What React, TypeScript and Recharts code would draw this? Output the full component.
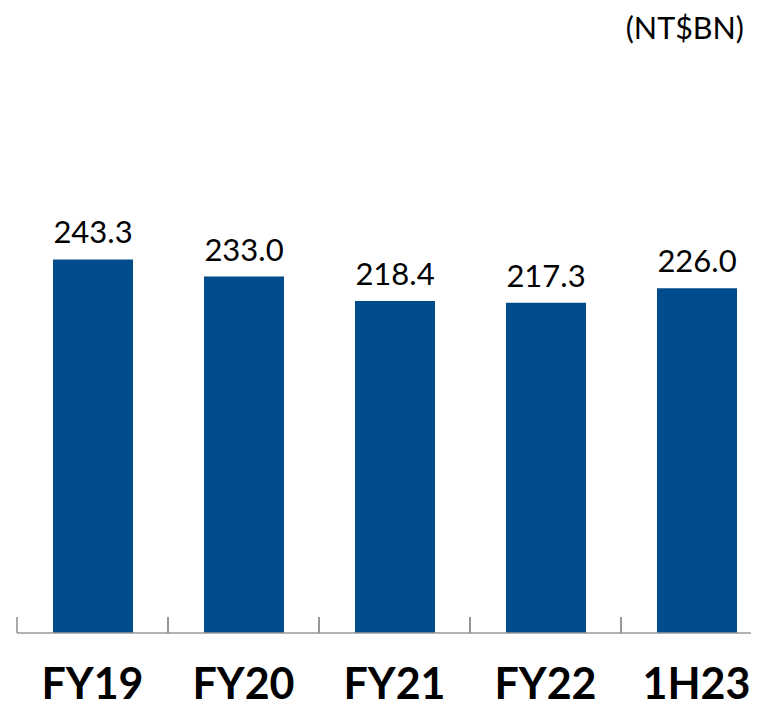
import { Bar, BarChart, LabelList, XAxis, YAxis } from "recharts"

const periods = ["FY19", "FY20", "FY21", "FY22", "1H23"]
const amounts = [243.3, 233.0, 218.4, 217.3, 226.0]
const unitLabel = "(NT$BN)"

const data = periods.map((name, i) => ({ name, value: amounts[i] }))

const FONT = "Lato, 'Open Sans', sans-serif"

function PeriodTick(props: any) {
  const { x, y, payload } = props
  const half = payload && payload.offset ? payload.offset : 75.5
  return (
    <g>
      <line x1={x - half} y1={y} x2={x - half} y2={y - 16} stroke="#8f8f8f" strokeWidth={1.5} />
      <line x1={x + half} y1={y} x2={x + half} y2={y - 16} stroke="#8f8f8f" strokeWidth={1.5} />
      <text x={x} y={y + 66} textAnchor="middle" fontFamily={FONT} fontWeight={700} fontSize={43} fill="#000">
        {payload.value}
      </text>
    </g>
  )
}

export default function App() {
  return (
    <div style={{ position: "relative", width: 751, height: 694, overflow: "hidden", background: "#fff" }}>
      <div
        style={{
          position: "absolute",
          top: 1,
          right: 15,
          fontFamily: FONT,
          fontSize: 30.5,
          color: "#000",
          lineHeight: "36px",
          zIndex: 2,
        }}
      >
        {unitLabel}
      </div>
      <BarChart width={800} height={694} data={data} margin={{ top: 157, right: 36, bottom: 0, left: 9 }}>
        <XAxis
          dataKey="name"
          height={69}
          axisLine={{ stroke: "#999999", strokeWidth: 1.5 }}
          tickLine={false}
          tickSize={0}
          tickMargin={0}
          tick={<PeriodTick />}
          interval={0}
        />
        <YAxis hide domain={[19, 300]} />
        <Bar dataKey="value" fill="#014c8d" barSize={80} isAnimationActive={false}>
          <LabelList dataKey="value" position="top" offset={16} formatter={(v: any) => Number(v).toFixed(1)} fill="#000" fontFamily={FONT} fontSize={31} />
        </Bar>
      </BarChart>
    </div>
  )
}
